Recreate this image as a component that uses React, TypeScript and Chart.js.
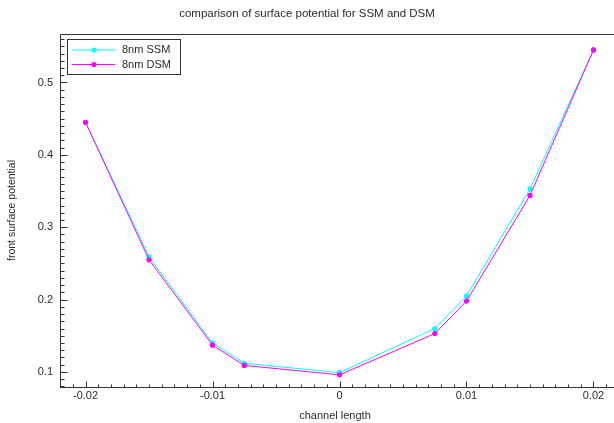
import React, { useEffect, useRef } from "react";
import { Chart, registerables } from "chart.js";

Chart.register(...registerables);

const channelLength = [-0.02, -0.015, -0.01, -0.0075, 0, 0.0075, 0.01, 0.015, 0.02];
const ssm8nm = [0.445, 0.259, 0.14, 0.112, 0.099, 0.16, 0.205, 0.353, 0.545];
const dsm8nm = [0.445, 0.255, 0.137, 0.109, 0.096, 0.153, 0.198, 0.344, 0.545];
const xTickValues = [-0.02, -0.01, 0, 0.01, 0.02];
const yTickValues = [0.1, 0.2, 0.3, 0.4, 0.5];
const seriesNames = ["8nm SSM", "8nm DSM"];
const seriesColors = ["#00ffff", "#ff00ff"];

const FONT = "'Liberation Sans', Arial, Helvetica, sans-serif";
const TEXT = "#2a2a2a";
const AXIS = "#333333";

const axesPlugin = {
  id: "axesFrame",
  afterDatasetsDraw(chart: any) {
    const { ctx, chartArea: a, scales } = chart;
    const xs = scales.x;
    const ys = scales.y;
    const L = Math.round(a.left) + 0.5;
    const B = Math.round(a.bottom) + 0.5;
    const T = Math.round(a.top) + 0.5;
    ctx.save();
    ctx.strokeStyle = AXIS;
    ctx.lineWidth = 1;
    ctx.beginPath();
    ctx.moveTo(L, T);
    ctx.lineTo(L, B);
    ctx.lineTo(chart.width, B);
    ctx.moveTo(L, T);
    ctx.lineTo(chart.width, T);
    const xStep = 0.001;
    for (let i = Math.ceil(xs.min / xStep); i <= Math.floor(xs.max / xStep); i++) {
      const px = Math.round(xs.getPixelForValue(i * xStep)) + 0.5;
      const len = i % 10 === 0 ? 6 : 3;
      ctx.moveTo(px, B);
      ctx.lineTo(px, B - len);
    }
    const yStep = 0.01;
    for (let i = Math.ceil(ys.min / yStep); i <= Math.floor(ys.max / yStep); i++) {
      const py = Math.round(ys.getPixelForValue(i * yStep)) + 0.5;
      const len = i % 10 === 0 ? 7 : 4;
      ctx.moveTo(L, py);
      ctx.lineTo(L + len, py);
    }
    ctx.stroke();
    ctx.restore();
  },
};

const boxLegendPlugin = {
  id: "boxLegend",
  afterDraw(chart: any) {
    const { ctx } = chart;
    ctx.save();
    ctx.strokeStyle = AXIS;
    ctx.lineWidth = 1;
    ctx.strokeRect(67.5, 39.5, 113, 35);
    ctx.font = `11px ${FONT}`;
    ctx.textBaseline = "middle";
    ctx.textAlign = "left";
    const rows = [50, 64.5];
    seriesNames.forEach((name, i) => {
      const y = rows[i];
      ctx.strokeStyle = seriesColors[i];
      ctx.beginPath();
      ctx.moveTo(72, y);
      ctx.lineTo(115, y);
      ctx.stroke();
      ctx.fillStyle = seriesColors[i];
      ctx.beginPath();
      ctx.arc(94, y, 2.6, 0, Math.PI * 2);
      ctx.fill();
      ctx.fillStyle = TEXT;
      ctx.fillText(name, 122, y);
    });
    ctx.restore();
  },
};

export default function App() {
  const ref = useRef<HTMLCanvasElement | null>(null);

  useEffect(() => {
    document.body.style.margin = "0";
    const canvas = ref.current;
    if (!canvas) return;
    Chart.defaults.font.family = FONT;
    const mk = (label: string, data: number[], color: string, order: number) => ({
      label,
      data: channelLength.map((x, i) => ({ x, y: data[i] })),
      borderColor: color,
      backgroundColor: color,
      borderWidth: 1,
      pointRadius: 2.6,
      pointBorderWidth: 0,
      pointBackgroundColor: color,
      tension: 0,
      order,
    });
    const chart = new Chart(canvas, {
      type: "line",
      data: {
        datasets: [
          mk(seriesNames[0], ssm8nm, seriesColors[0], 1),
          mk(seriesNames[1], dsm8nm, seriesColors[1], 0),
        ],
      },
      options: {
        animation: false,
        responsive: false,
        devicePixelRatio: 1,
        layout: { padding: 0 },
        plugins: {
          legend: { display: false },
          tooltip: { enabled: false },
          title: {
            display: true,
            text: "comparison of surface potential for SSM and DSM",
            color: TEXT,
            font: { size: 11.5, weight: "normal", family: FONT },
            padding: { top: 7, bottom: 13.2 },
          },
        },
        scales: {
          x: {
            type: "linear",
            min: -0.02201,
            max: 0.0213,
            afterBuildTicks: (s: any) => {
              s.ticks = xTickValues.map((v) => ({ value: v }));
            },
            afterFit: (s: any) => {
              s.height = 36;
            },
            grid: { display: false, drawTicks: false },
            border: { display: false },
            ticks: {
              color: TEXT,
              font: { size: 11, family: FONT },
              padding: 2,
              maxRotation: 0,
              autoSkip: false,
              callback: (v: any) => String(v),
            },
            title: {
              display: true,
              text: "channel length",
              color: TEXT,
              font: { size: 11, family: FONT },
              padding: { top: 0, bottom: 0 },
            },
          },
          y: {
            type: "linear",
            min: 0.0792,
            max: 0.567,
            afterBuildTicks: (s: any) => {
              s.ticks = yTickValues.map((v) => ({ value: v }));
            },
            afterFit: (s: any) => {
              s.width = 60;
            },
            grid: { display: false, drawTicks: false },
            border: { display: false },
            ticks: {
              color: TEXT,
              font: { size: 11, family: FONT },
              padding: 7,
              callback: (v: any) => String(v),
            },
            title: {
              display: true,
              text: "front surface potential",
              color: TEXT,
              font: { size: 10.5, family: FONT },
              padding: { top: 6, bottom: 0 },
            },
          },
        },
      },
      plugins: [axesPlugin, boxLegendPlugin],
    } as any);
    return () => chart.destroy();
  }, []);

  return (
    <div style={{ width: 614, height: 423 }}>
      <canvas ref={ref} width={614} height={423} style={{ display: "block" }} />
    </div>
  );
}
